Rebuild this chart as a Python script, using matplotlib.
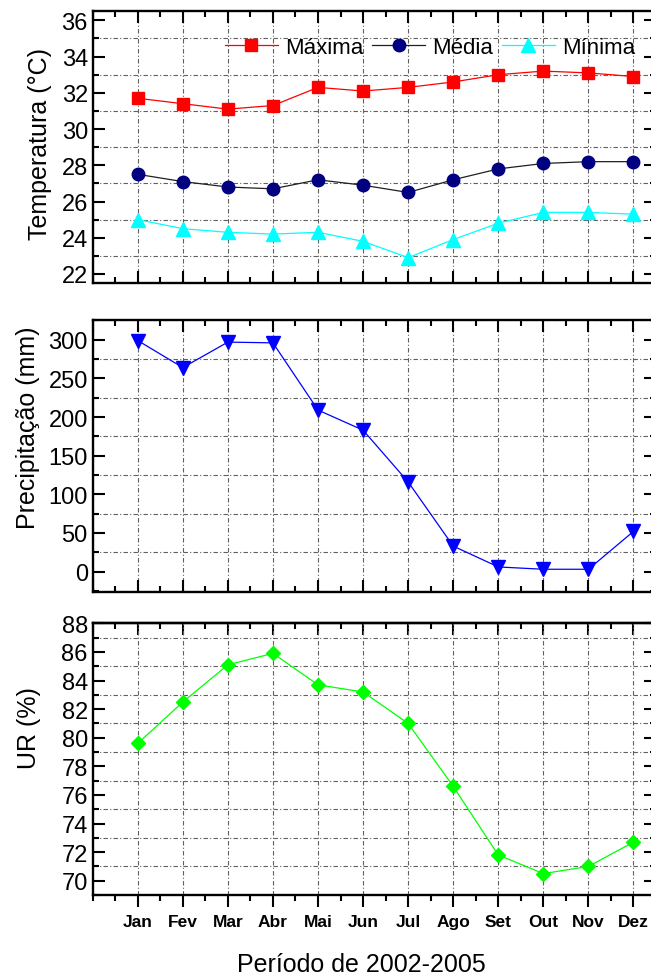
import matplotlib
matplotlib.use('Agg')
import matplotlib.pyplot as plt
from matplotlib.ticker import MultipleLocator

plt.rcParams['font.family'] = ['Liberation Sans', 'DejaVu Sans']

# Dados mensais (2002-2005)
meses = ['Jan', 'Fev', 'Mar', 'Abr', 'Mai', 'Jun', 'Jul', 'Ago', 'Set', 'Out', 'Nov', 'Dez']
posicoes = list(range(1, 13))

temp_maxima = [31.7, 31.4, 31.1, 31.3, 32.3, 32.1, 32.3, 32.6, 33.0, 33.2, 33.1, 32.9]
temp_media = [27.5, 27.1, 26.8, 26.7, 27.2, 26.9, 26.5, 27.2, 27.8, 28.1, 28.2, 28.2]
temp_minima = [25.0, 24.5, 24.3, 24.2, 24.3, 23.8, 22.9, 23.9, 24.8, 25.4, 25.4, 25.3]

precipitacao = [299, 264, 297, 296, 209, 183, 116, 33, 6, 3, 3, 52]

umidade = [79.6, 82.5, 85.1, 85.9, 83.7, 83.2, 81.0, 76.6, 71.8, 70.5, 71.0, 72.7]

fig = plt.figure(figsize=(6.51, 9.78), dpi=100)
ax1 = fig.add_axes([0.1424, 0.7096, 0.8653, 0.2778])
ax2 = fig.add_axes([0.1424, 0.3940, 0.8653, 0.2781])
ax3 = fig.add_axes([0.1424, 0.0838, 0.8653, 0.2778])

grid_kw = dict(color='#606060', linewidth=0.8, linestyle=(0, (4, 2, 1, 2)))


def formatar_eixo(ax, ymin, ymax, ymaior, ymenor):
    ax.set_xlim(0, 12.5)
    ax.set_ylim(ymin, ymax)
    ax.xaxis.set_major_locator(MultipleLocator(1))
    ax.xaxis.set_minor_locator(MultipleLocator(0.5))
    ax.yaxis.set_major_locator(MultipleLocator(ymaior))
    ax.yaxis.set_minor_locator(MultipleLocator(ymenor))
    ax.tick_params(which='both', direction='in', top=True, right=True, width=1.5)
    ax.tick_params(which='major', length=8.5, labelsize=17, pad=3.5)
    ax.tick_params(which='minor', length=4.5)
    ax.tick_params(axis='x', labelbottom=False)
    for s in ax.spines.values():
        s.set_linewidth(1.7)
    ax.set_axisbelow(True)
    ax.grid(which='major', axis='x', **grid_kw)
    ax.grid(which='minor', axis='y', **grid_kw)


# Temperatura
formatar_eixo(ax1, 21.5, 36.5, 2, 1)
ax1.plot(posicoes, temp_maxima, color='red', lw=0.9, marker='s', ms=8, mfc='red', mec='red', label='Máxima')
ax1.plot(posicoes, temp_media, color='#202020', lw=0.9, marker='o', ms=9, mfc='#000080', mec='#000080', label='Média')
ax1.plot(posicoes, temp_minima, color='cyan', lw=0.9, marker='^', ms=10, mfc='cyan', mec='cyan', label='Mínima')
ax1.set_ylabel('Temperatura (°C)', fontsize=18)
ax1.yaxis.set_label_coords(-0.072, 0.515)
ax1.legend(loc='center right', bbox_to_anchor=(0.982, 0.868), ncol=3, frameon=False,
           fontsize=16, borderpad=0, handlelength=2.4, handletextpad=0.3, columnspacing=0.4)

# Precipitação
formatar_eixo(ax2, -26, 326, 50, 25)
ax2.plot(posicoes, precipitacao, color='blue', lw=0.9, marker='v', ms=10.5, mfc='blue', mec='blue')
ax2.set_ylabel('Precipitação (mm)', fontsize=18)
ax2.yaxis.set_label_coords(-0.094, 0.605)

# Umidade relativa
formatar_eixo(ax3, 69, 88, 2, 1)
ax3.plot(posicoes, umidade, color='#00FF00', lw=0.9, marker='D', ms=7.5, mfc='#00FF00', mec='#00FF00')
ax3.set_ylabel('UR (%)', fontsize=18)
ax3.yaxis.set_label_coords(-0.092, 0.618)

# eixo de baixo com ticks para fora e rótulos dos meses
ax3.tick_params(axis='x', which='both', direction='out', top=False, labelbottom=True)
ax3.set_xticks(posicoes)
ax3.set_xticklabels(meses, fontsize=12.5, fontweight='bold')
ax3.tick_params(axis='x', which='major', pad=5)
topo = ax3.secondary_xaxis('top')
topo.xaxis.set_major_locator(MultipleLocator(1))
topo.xaxis.set_minor_locator(MultipleLocator(0.5))
topo.tick_params(which='both', direction='in', width=1.5, labeltop=False)
topo.tick_params(which='major', length=8.5)
topo.tick_params(which='minor', length=4.5)
topo.spines['top'].set_linewidth(1.7)

fig.text(361 / 651, 1 - 965 / 978, 'Período de 2002-2005', ha='center', va='center', fontsize=18)

fig.savefig('out.png', dpi=100)
